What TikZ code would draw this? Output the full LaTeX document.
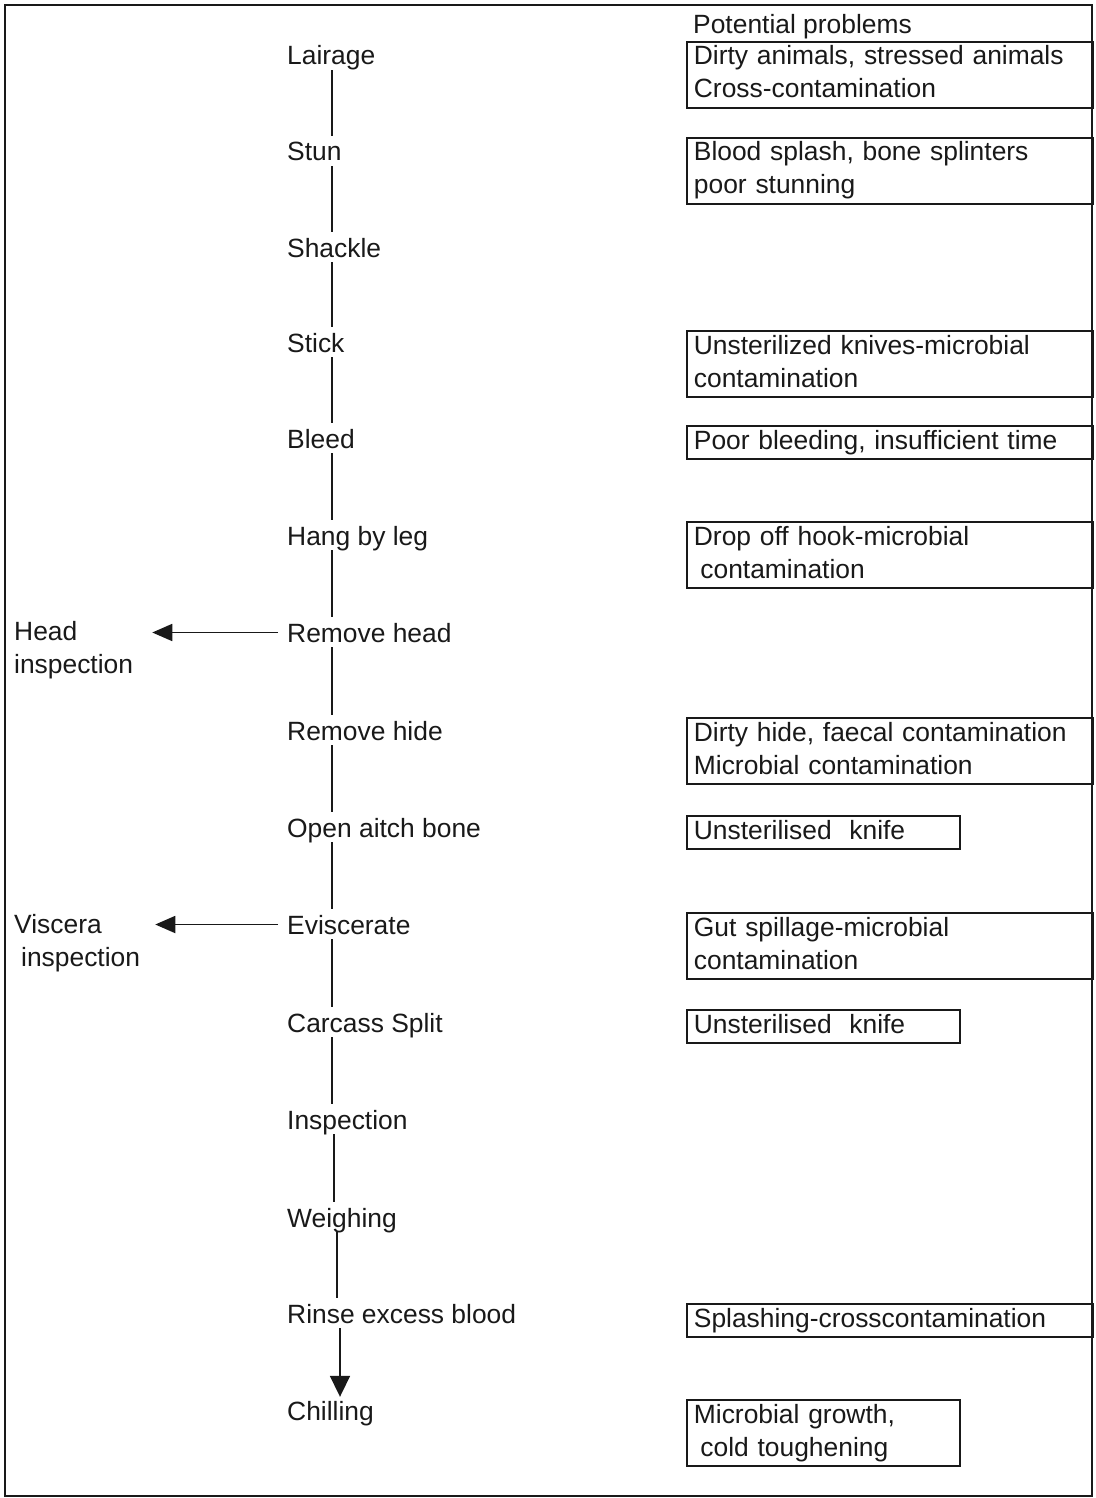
\documentclass[tikz,border=0pt]{standalone}
\usepackage{fontspec}
\setmainfont{Liberation Sans}
\usetikzlibrary{arrows.meta}
\definecolor{ink}{gray}{0.1}
\begin{document}
\begin{tikzpicture}[x=1pt, y=-1pt,
  txt/.style={font=\fontsize{26.4}{33}\selectfont, text=ink},
  stepnode/.style={txt, anchor=base west, inner sep=0pt, text height=19pt, text depth=0pt},
  probbox/.style={txt, draw=ink, line width=1.8pt, anchor=north west, inner xsep=7pt, inner ysep=0pt,
    align=left, execute at begin node=\strut, execute at end node=\strut},
  widebox/.style={probbox, text width=392pt},
  narrowbox/.style={probbox, text width=259pt},
  sidelabel/.style={txt, anchor=north west, inner sep=0pt, align=left},
  flow/.style={draw=ink, line width=1.8pt},
  flowarrow/.style={flow, -{Triangle[length=21pt, width=20pt]}},
  sidearrow/.style={flow, -{Triangle[length=20pt, width=17pt]}}]
\useasboundingbox (0,0) rectangle (1095,1498);
\fill[white] (0,0) rectangle (1095,1498);
% frame
\draw[line width=2pt, draw=ink] (5,5) rectangle (1092,1496);

% process steps
\node[stepnode] (s0)  at (287,65)   {Lairage};
\node[stepnode] (s1)  at (287,161)  {Stun};
\node[stepnode] (s2)  at (287,257)  {Shackle};
\node[stepnode] (s3)  at (287,352)  {Stick};
\node[stepnode] (s4)  at (287,448)  {Bleed};
\node[stepnode] (s5)  at (287,545)  {Hang by leg};
\node[stepnode] (s6)  at (287,642)  {Remove head};
\node[stepnode] (s7)  at (287,740)  {Remove hide};
\node[stepnode] (s8)  at (287,837)  {Open aitch bone};
\node[stepnode] (s9)  at (287,934)  {Eviscerate};
\node[stepnode] (s10) at (287,1032) {Carcass Split};
\node[stepnode] (s11) at (287,1129) {Inspection};
\node[stepnode] (s12) at (287,1227) {Weighing};
\node[stepnode] (s13) at (287,1323) {Rinse excess blood};
\node[stepnode] (s14) at (287,1420) {Chilling};

% flow line positions (scan drifts slightly to the right at the bottom)
\coordinate (lxa) at (332,0);
\coordinate (lxb) at (334,0);
\coordinate (lxc) at (337,0);
\coordinate (lxd) at (340,0);

\foreach \a/\b in {s0/s1,s1/s2,s2/s3,s3/s4,s4/s5,s5/s6,s6/s7,s7/s8,s8/s9,s9/s10}{
  \draw[flow] ([yshift=-5pt]\a.south -| lxa) -- ([yshift=6pt]\b.north -| lxa);
}
\draw[flow] ([yshift=-5pt]s10.south -| lxa) -- ([yshift=6pt]s11.north -| lxa);
\draw[flow] ([yshift=-5pt]s11.south -| lxb) -- ([yshift=6pt]s12.north -| lxb);
\draw[flow] ([yshift=-5pt]s12.south -| lxc) -- ([yshift=6pt]s13.north -| lxc);
\draw[flowarrow] ([yshift=-5pt]s13.south -| lxd) -- ([yshift=4pt]s14.north -| lxd);

% side inspections
\node[sidelabel] (hi) at (14,617) {\strut Head\\inspection};
\node[sidelabel] (vi) at (14,910) {\strut Viscera\\\hspace*{7pt}inspection};
\draw[sidearrow] ([xshift=-9pt]s6.west) -- ([xshift=19pt]s6.west -| hi.east);
\draw[sidearrow] ([xshift=-9pt]s9.west) -- ([xshift=15pt]s9.west -| vi.east);

% potential problems
\node[txt, anchor=base west, inner sep=0pt] (pp) at (693,34) {Potential problems};
\node[widebox] (p0)  at (686,41)   {Dirty animals, stressed animals\\Cross-contamination};
\node[widebox] (p1)  at (686,137)  {Blood splash, bone splinters\\poor stunning};
\node[widebox] (p3)  at (686,330)  {Unsterilized knives-microbial\\contamination};
\node[widebox] (p4)  at (686,425)  {Poor bleeding, insufficient time};
\node[widebox] (p5)  at (686,521)  {Drop off hook-microbial\\\hspace*{6.5pt}contamination};
\node[widebox] (p7)  at (686,717)  {Dirty hide, faecal contamination\\Microbial contamination};
\node[narrowbox] (p8)  at (686,815)  {Unsterilised\ \ knife};
\node[widebox] (p9)  at (686,912)  {Gut spillage-microbial\\contamination};
\node[narrowbox] (p10) at (686,1009) {Unsterilised\ \ knife};
\node[widebox] (p13) at (686,1303) {Splashing-crosscontamination};
\node[narrowbox] (p14) at (686,1399) {Microbial growth,\\\hspace*{6.5pt}cold toughening};
\end{tikzpicture}
\end{document}
